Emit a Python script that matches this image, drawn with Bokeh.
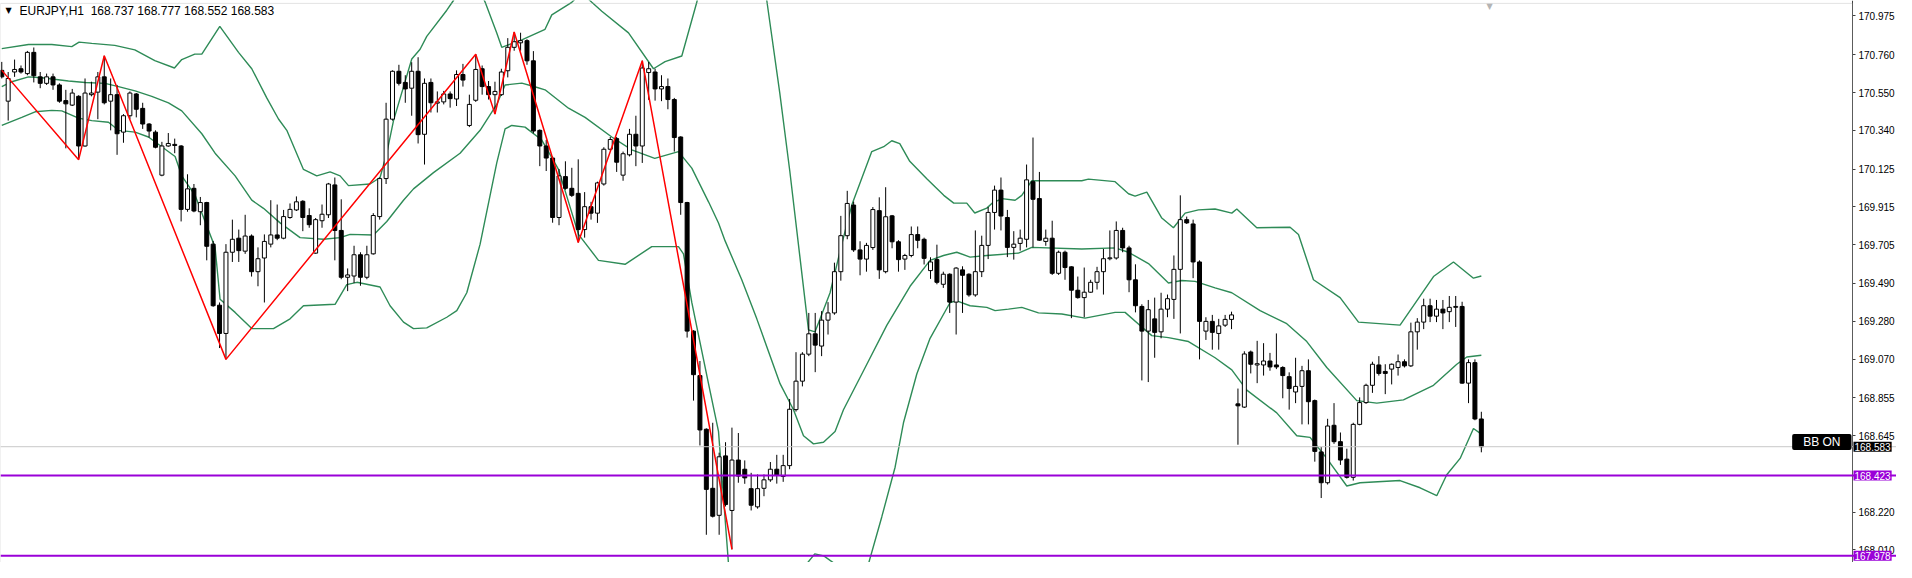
from bokeh.plotting import figure
from bokeh.models import (Range1d, LinearAxis, FixedTicker, PrintfTickFormatter, Label, Span,
                          ColumnDataSource, BoxAnnotation)
from bokeh.embed import file_html
from bokeh.resources import INLINE

symbol = "EURJPY,H1"

open_ = [170.673,170.502,170.664,170.682,170.655,170.773,170.637,170.601,170.637,170.592,
         170.505,170.480,170.529,170.253,170.538,170.552,170.637,170.502,170.538,170.330,
         170.421,170.542,170.462,170.375,170.330,170.091,170.253,170.262,170.253,169.901,
         170.018,169.888,169.939,169.708,169.369,169.212,169.663,169.741,169.669,169.753,
         169.555,169.631,169.708,169.759,169.741,169.856,169.898,169.946,169.867,169.658,
         169.838,169.871,170.037,169.784,169.524,169.531,169.649,169.524,169.654,169.861,
         170.072,170.402,170.668,170.606,170.574,170.668,170.318,170.606,170.491,170.498,
         170.542,170.514,170.650,170.367,170.507,170.682,170.583,170.538,170.538,170.671,
         170.801,170.826,170.838,170.726,170.340,170.253,170.186,169.856,170.083,170.018,
         169.990,169.789,169.916,169.880,170.042,170.235,170.294,170.091,170.204,170.318,
         170.253,170.661,170.664,170.570,170.583,170.511,170.303,169.939,169.225,168.978,
         168.680,168.352,168.202,168.532,168.229,168.509,168.458,168.350,168.249,168.352,
         168.399,168.458,168.418,168.478,168.789,168.947,169.097,169.210,169.142,169.286,
         169.326,169.555,169.755,169.925,169.676,169.625,169.689,169.894,169.555,169.865,
         169.721,169.625,169.645,169.761,169.735,169.561,169.622,169.485,169.541,169.386,
         169.565,169.541,169.426,169.555,169.701,169.884,170.008,169.856,169.690,169.712,
         169.735,170.055,169.961,169.723,169.741,169.546,169.663,169.582,169.452,169.411,
         169.441,169.496,169.555,169.627,169.631,169.784,169.687,169.510,169.362,169.225,
         169.293,169.221,169.347,169.401,169.568,169.844,169.820,169.609,169.225,169.279,
         169.212,169.258,169.290,168.821,168.803,169.109,169.037,169.037,169.059,169.037,
         169.023,168.972,168.887,168.918,169.005,168.839,168.554,168.383,168.702,168.611,
         168.514,168.413,168.707,168.828,168.924,169.037,169.001,169.014,169.023,169.055,
         169.032,169.221,169.275,169.366,169.308,169.347,169.333,169.357,169.362,168.936,
         169.050,168.737]
high_ = [170.720,170.664,170.733,170.700,170.781,170.800,170.664,170.655,170.655,170.601,
         170.565,170.570,170.535,170.628,170.610,170.664,170.754,170.628,170.592,170.430,
         170.556,170.547,170.493,170.380,170.340,170.276,170.325,170.294,170.258,170.096,
         170.042,169.970,169.943,169.726,169.384,169.708,169.844,169.789,169.871,169.762,
         169.690,169.762,169.952,169.928,169.898,169.934,169.973,169.952,169.907,169.853,
         169.928,170.048,170.078,169.957,169.573,169.699,169.663,169.699,169.880,170.078,
         170.493,170.673,170.704,170.646,170.718,170.746,170.628,170.628,170.556,170.559,
         170.556,170.673,170.709,170.538,170.763,170.700,170.614,170.610,170.682,170.852,
         170.886,170.882,170.846,170.780,170.345,170.287,170.195,170.125,170.168,170.132,
         170.179,169.997,169.943,170.055,170.246,170.303,170.303,170.222,170.348,170.421,
         170.727,170.720,170.682,170.646,170.628,170.520,170.307,169.943,169.230,169.059,
         168.685,168.716,168.550,168.608,168.689,168.659,168.507,168.438,168.429,168.429,
         168.498,168.538,168.538,168.848,169.108,169.108,169.326,169.326,169.336,169.386,
         169.605,169.865,170.004,169.944,169.724,169.715,169.914,169.968,170.024,169.870,
         169.730,169.654,169.806,169.806,169.744,169.635,169.705,169.555,169.546,169.580,
         169.585,169.546,169.784,169.755,169.914,170.033,170.078,169.898,169.780,169.789,
         170.150,170.300,170.109,169.789,169.838,169.672,169.672,169.585,169.528,169.578,
         169.510,169.582,169.681,169.784,169.834,169.799,169.699,169.596,169.374,169.398,
         169.411,169.438,169.428,169.645,169.979,169.861,169.844,169.618,169.302,169.315,
         169.293,169.315,169.333,168.906,169.113,169.117,169.171,169.158,169.104,169.212,
         169.030,168.996,169.077,169.032,169.068,168.845,168.581,168.738,168.825,168.662,
         168.572,168.716,168.857,168.933,169.055,169.086,169.041,169.045,169.095,169.068,
         169.272,169.297,169.405,169.405,169.398,169.398,169.420,169.420,169.388,169.068,
         169.068,168.777]
low_ = [170.628,170.394,170.637,170.655,170.646,170.606,170.574,170.592,170.565,170.493,
        170.240,170.475,170.177,170.249,170.529,170.402,170.484,170.340,170.204,170.271,
        170.402,170.412,170.348,170.300,170.240,170.085,170.249,170.213,169.834,169.888,
        169.885,169.813,169.618,169.360,169.131,169.068,169.609,169.609,169.654,169.528,
        169.474,169.384,169.690,169.730,169.735,169.849,169.892,169.780,169.799,169.654,
        169.799,169.853,169.618,169.513,169.447,169.492,169.477,169.513,169.650,169.844,
        170.042,170.394,170.589,170.493,170.421,170.267,170.150,170.439,170.439,170.484,
        170.466,170.475,170.583,170.358,170.498,170.538,170.511,170.430,170.531,170.634,
        170.782,170.782,170.704,170.323,170.141,170.114,169.827,169.813,170.010,169.970,
        169.717,169.744,169.844,169.826,170.033,170.228,170.109,170.060,170.195,170.141,
        170.159,170.509,170.505,170.502,170.457,170.222,169.871,169.189,168.839,168.590,
        168.094,168.190,168.094,168.251,168.013,168.383,168.377,168.229,168.239,168.308,
        168.388,168.378,168.388,168.458,168.778,168.918,169.086,168.997,169.086,169.206,
        169.316,169.505,169.735,169.665,169.535,169.555,169.676,169.515,169.546,169.685,
        169.555,169.565,169.635,169.685,169.595,169.515,169.485,169.465,169.326,169.206,
        169.326,169.416,169.416,169.525,169.625,169.789,169.784,169.636,169.622,169.672,
        169.690,169.690,169.726,169.699,169.537,169.537,169.510,169.297,169.405,169.302,
        169.438,169.456,169.428,169.618,169.622,169.663,169.441,169.329,168.951,168.942,
        169.077,169.185,169.302,169.293,169.212,169.820,169.519,169.068,169.176,169.122,
        169.122,169.248,169.236,168.594,168.798,168.990,168.936,168.978,169.005,169.014,
        168.852,168.789,168.825,168.707,168.707,168.500,168.298,168.373,168.599,168.482,
        168.406,168.395,168.702,168.821,168.882,168.978,168.875,168.929,168.978,169.023,
        169.026,169.122,169.236,169.275,169.275,169.236,169.275,169.248,168.933,168.825,
        168.730,168.552]
close_ = [170.637,170.628,170.678,170.664,170.773,170.643,170.601,170.637,170.592,170.502,
          170.487,170.547,170.253,170.547,170.547,170.637,170.493,170.538,170.321,170.421,
          170.547,170.457,170.375,170.336,170.246,170.253,170.267,170.256,169.901,170.015,
          169.892,169.939,169.696,169.366,169.212,169.663,169.735,169.672,169.753,169.555,
          169.627,169.723,169.759,169.741,169.861,169.901,169.943,169.856,169.816,169.844,
          169.874,170.042,169.784,169.524,169.537,169.649,169.524,169.649,169.867,170.072,
          170.402,170.668,170.601,170.570,170.668,170.316,170.601,170.493,170.498,170.542,
          170.516,170.650,170.619,170.484,170.678,170.583,170.538,170.556,170.664,170.801,
          170.832,170.838,170.726,170.336,170.253,170.186,169.856,170.087,170.018,169.979,
          169.789,169.916,169.880,170.048,170.235,170.289,170.163,170.210,170.318,170.253,
          170.686,170.682,170.570,170.583,170.511,170.300,169.939,169.225,168.983,168.676,
          168.346,168.197,168.527,168.262,168.509,168.420,168.410,168.258,168.350,168.399,
          168.458,168.424,168.478,168.791,168.947,169.097,169.210,169.147,169.286,169.326,
          169.555,169.755,169.934,169.676,169.625,169.701,169.900,169.565,169.860,169.721,
          169.622,169.645,169.761,169.729,169.629,169.609,169.496,169.541,169.386,169.575,
          169.535,169.426,169.555,169.701,169.884,170.008,169.864,169.690,169.708,169.741,
          170.065,169.957,169.730,169.741,169.546,169.663,169.578,169.452,169.411,169.441,
          169.496,169.555,169.627,169.632,169.784,169.687,169.510,169.366,169.225,169.344,
          169.218,169.347,169.405,169.568,169.844,169.826,169.609,169.279,169.279,169.218,
          169.254,169.290,169.315,168.810,169.098,169.041,169.044,169.059,169.026,169.026,
          168.978,168.906,168.918,169.005,168.833,168.557,168.383,168.698,168.611,168.509,
          168.413,168.707,168.828,168.924,169.041,168.990,168.990,169.041,169.055,169.032,
          169.221,169.275,169.366,169.308,169.347,169.326,169.357,169.362,168.936,169.050,
          168.737,168.583]

# ZigZag pivots (bar index, price)
zz_bar = [0, 12, 16, 35, 74, 77, 80, 90, 100, 114]
zz_price = [170.673, 170.177, 170.754, 169.068, 170.763, 170.430, 170.886, 169.717, 170.727, 168.013]

# Bollinger bands (bar index, price)
upper_bar = [0,4.17,7.81,10.93,12.07,14.05,17.64,20.77,23.89,26.96,28.10,30.13,31.23,34.04,36.96,39.03,
             41.37,43.20,44.50,47.10,49.18,51.26,52.82,54.13,57.50,59.06,60.11,61.16,64.01,65.31,66.35,
             69.48,70.52,72.13,74.00,75.46,77.28,78.06,81.19,84.82,85.87,88.99,90.55,92.12,93.68,97.85,
             101.75,103.56,106.17,108.51,112.41,116.32,119.44,121.47,123.03,124.59,125.95,126.98,129.32,
             131.15,132.71,135.83,137.70,138.95,140.20,141.76,144.42,147.07,148.63,150.66,151.91,153.79,
             154.57,156.13,158.21,159.25,160.81,168.62,169.66,173.82,175.91,176.94,178.77,181.11,182.93,
             184.75,186.84,189.43,192.04,192.82,195.94,201.14,202.45,204.79,208.95,211.82,218.31,220.41,
             223.53,226.65,229.77,231]
upper_val = [170.794,170.817,170.817,170.805,170.830,170.823,170.812,170.787,170.727,170.686,170.733,
             170.763,170.763,170.917,170.773,170.682,170.520,170.403,170.340,170.123,170.087,170.109,
             170.087,170.033,170.042,170.078,170.213,170.394,170.736,170.790,170.862,171.007,171.061,
             171.196,171.169,171.052,170.881,170.801,170.842,170.901,170.981,171.051,171.104,171.051,
             171.001,170.881,170.682,170.722,170.753,171.051,171.710,171.602,171.061,170.547,170.114,
             169.643,169.232,169.221,169.438,169.708,169.925,170.222,170.249,170.282,170.266,170.168,
             170.071,169.979,169.936,169.936,169.881,169.908,169.934,169.961,169.952,169.979,170.060,
             170.060,170.069,170.055,169.988,169.975,169.997,169.853,169.799,169.880,169.898,169.903,
             169.880,169.903,169.799,169.802,169.762,169.510,169.411,169.275,169.258,169.366,169.528,
             169.609,169.519,169.531]
mid_bar = [0,1.56,4.17,6.25,10.41,13.01,16.13,18.22,20.81,23.42,26.03,28.10,31.23,33.30,36.43,39.03,
           40.86,43.45,46.57,50.23,52.82,54.38,58.03,60.11,62.72,64.28,67.40,71.55,74.68,77.28,78.58,
           81.19,83.22,84.82,88.48,91.07,95.24,98.36,101.95,105.65,107.73,110.34,111.90,112.93,115.53,
           117.88,121.51,123.61,125.17,126.73,128.29,130.10,131.41,134.54,138.17,141.81,144.93,147.03,
           149.10,151.18,153.79,158.73,160.81,168.62,173.82,175.91,179.03,182.15,184.23,186.31,189.43,
           192.04,196.46,200.62,203.75,206.87,211.55,214.68,218.84,223.53,227.17,228.73,231]
mid_val = [170.583,170.610,170.637,170.632,170.614,170.606,170.601,170.583,170.559,170.529,170.493,
           170.448,170.321,170.213,170.087,169.952,169.907,169.826,169.744,169.735,169.744,169.762,
           169.759,169.834,169.952,170.015,170.105,170.213,170.340,170.484,170.592,170.602,170.582,
           170.565,170.463,170.412,170.303,170.231,170.184,170.222,170.130,169.943,169.825,169.726,
           169.510,169.293,168.933,168.788,168.644,168.599,168.608,168.668,168.788,169.005,169.257,
           169.474,169.618,169.645,169.663,169.636,169.645,169.658,169.690,169.681,169.687,169.663,
           169.600,169.492,169.506,169.501,169.465,169.438,169.339,169.266,169.167,169.023,168.839,
           168.825,168.843,168.924,169.041,169.081,169.091]
lower_bar = [0,3.12,5.20,7.81,9.37,11.98,14.05,16.66,18.22,20.81,22.90,24.98,27.06,28.10,30.18,31.74,
             33.30,34.08,36.43,39.03,42.42,45.01,47.10,52.04,53.86,55.43,59.06,60.62,62.72,64.28,66.35,
             69.48,71.04,72.60,74.68,77.28,78.58,79.63,81.70,84.31,86.92,90.04,93.16,97.31,101.48,
             105.65,106.43,107.73,110.34,111.90,113.46,116.32,120.22,124.12,125.68,126.93,128.34,130.05,
             132.71,135.32,137.39,139.47,140.78,142.86,144.93,148.06,149.10,151.18,153.79,155.08,157.17,
             159.25,161.86,165.50,169.13,173.82,175.38,177.99,179.55,182.15,185.28,189.43,192.04,194.38,
             199.06,202.19,204.26,206.87,209.99,212.07,218.31,221.44,224.04,225.60,227.69,229.77,231]
lower_val = [170.367,170.412,170.443,170.451,170.448,170.408,170.394,170.385,170.340,170.330,170.303,
             170.249,170.195,170.087,169.979,169.834,169.690,169.402,169.329,169.239,169.239,169.293,
             169.366,169.374,169.483,169.496,169.470,169.366,169.275,169.239,169.243,169.302,169.339,
             169.438,169.708,170.159,170.348,170.367,170.358,170.286,170.123,169.762,169.618,169.596,
             169.694,169.694,169.654,169.384,168.933,168.668,167.933,167.382,167.273,167.706,167.933,
             167.988,167.977,167.933,167.869,167.933,168.193,168.469,168.716,168.987,169.185,169.384,
             169.393,169.366,169.357,169.339,169.347,169.357,169.326,169.320,169.297,169.329,169.329,
             169.248,169.200,169.189,169.167,169.077,169.010,168.897,168.771,168.644,168.635,168.518,
             168.365,168.383,168.395,168.355,168.311,168.427,168.518,168.684,168.653]

bid_price = 168.583
level_prices = [168.423, 167.978]
bb_tag_price = 168.609
price_ticks = [170.975, 170.760, 170.550, 170.340, 170.125, 169.915, 169.705, 169.490,
               169.280, 169.070, 168.855, 168.645, 168.220, 168.010]

FONT = "Liberation Sans"
W, H = 1896, 562
PPU = 6.405                     # pixels per bar
X0 = -0.2
X1 = X0 + W / PPU
AXIS_X = X0 + 1852 / PPU        # price scale line position (in bars)
Y1 = 171.061
Y0 = 167.94
FRAME_TOP = 171.045

p = figure(width=W, height=H, x_range=Range1d(X0, X1), y_range=Range1d(Y0, Y1),
           output_backend="svg", toolbar_location=None,
           x_axis_location=None, y_axis_location=None,
           min_border_left=0, min_border_right=0, min_border_top=0, min_border_bottom=0)
p.background_fill_color = "white"
p.border_fill_color = "white"
p.outline_line_color = None
p.xgrid.visible = False
p.ygrid.visible = False

# chart frame (top/left border) up to the price scale
p.add_layout(BoxAnnotation(right=AXIS_X, top=FRAME_TOP, fill_alpha=0, line_color="#A0A0A0", line_width=1))

yax = LinearAxis(ticker=FixedTicker(ticks=price_ticks), formatter=PrintfTickFormatter(format="%.3f"),
                 fixed_location=AXIS_X)
yax.major_label_text_font = FONT
yax.major_label_text_font_size = "10px"
yax.major_label_text_color = "#000000"
yax.major_tick_out = 3
yax.major_tick_in = 0
yax.minor_tick_out = 0
yax.minor_tick_in = 0
yax.axis_line_color = "#404040"
yax.major_tick_line_color = "#404040"
yax.major_label_standoff = 3
p.add_layout(yax, "right")

# horizontal lines
p.add_layout(Span(location=bid_price, dimension="width", line_color="#C8C8C8", line_width=1))
for lv in level_prices:
    p.add_layout(Span(location=lv, dimension="width", line_color="#9A00D8", line_width=2))

# bands
for bx, by in ((upper_bar, upper_val), (mid_bar, mid_val), (lower_bar, lower_val)):
    p.line(bx, by, line_color="#2E8B57", line_width=1.4)

# candles
idx = list(range(len(open_)))
top = [max(o, c) for o, c in zip(open_, close_)]
bot = [min(o, c) for o, c in zip(open_, close_)]
fill = ["white" if c >= o else "black" for o, c in zip(open_, close_)]
src = ColumnDataSource(dict(x=idx, high=high_, low=low_, top=top, bottom=bot, fill=fill))
p.segment(x0="x", y0="high", x1="x", y1="low", source=src, line_color="black", line_width=1)
p.vbar(x="x", top="top", bottom="bottom", width=0.62, source=src,
       fill_color="fill", line_color="black", line_width=1)

# zigzag
p.line(zz_bar, zz_price, line_color="#FF0000", line_width=1.5)

# title
p.add_layout(Label(x=X0, y=Y1, x_offset=5, y_offset=-5, text="\u25BC", text_font="DejaVu Sans",
                   text_font_size="8px", text_color="black", text_baseline="top"))
p.add_layout(Label(x=X0, y=Y1, x_offset=19, y_offset=-3,
                   text=symbol + "\u00a0\u00a0168.737 168.777 168.552 168.583",
                   text_font=FONT, text_font_size="12px", text_color="#000000", text_baseline="top"))
# chart shift marker
p.add_layout(Label(x=232.3, y=FRAME_TOP, y_offset=1, text="\u25BC", text_font="DejaVu Sans",
                   text_font_size="8px", text_color="#B4B4B4", text_baseline="top", text_align="center"))

# BB ON tag
p.add_layout(Label(x=AXIS_X, y=bb_tag_price, x_offset=-1, text="\u00a0\u00a0\u00a0BB ON\u00a0\u00a0\u00a0",
                   text_font=FONT, text_font_size="12px",
                   text_color="white", text_align="right", text_baseline="middle",
                   background_fill_color="black", padding=1, border_radius=2))

# price tags on the axis
p.add_layout(Label(x=AXIS_X, y=bid_price, x_offset=1, text="%.3f" % bid_price, text_font=FONT,
                   text_font_size="10px", text_color="white", text_align="left", text_baseline="middle",
                   background_fill_color="black", padding=1))
for lv in level_prices:
    p.add_layout(Label(x=AXIS_X, y=lv, x_offset=1, text="%.3f" % lv, text_font=FONT,
                       text_font_size="10px", text_color="white", text_align="left", text_baseline="middle",
                       background_fill_color="#9A00D8", padding=1))

open("out.html", "w").write(file_html(p, INLINE))
